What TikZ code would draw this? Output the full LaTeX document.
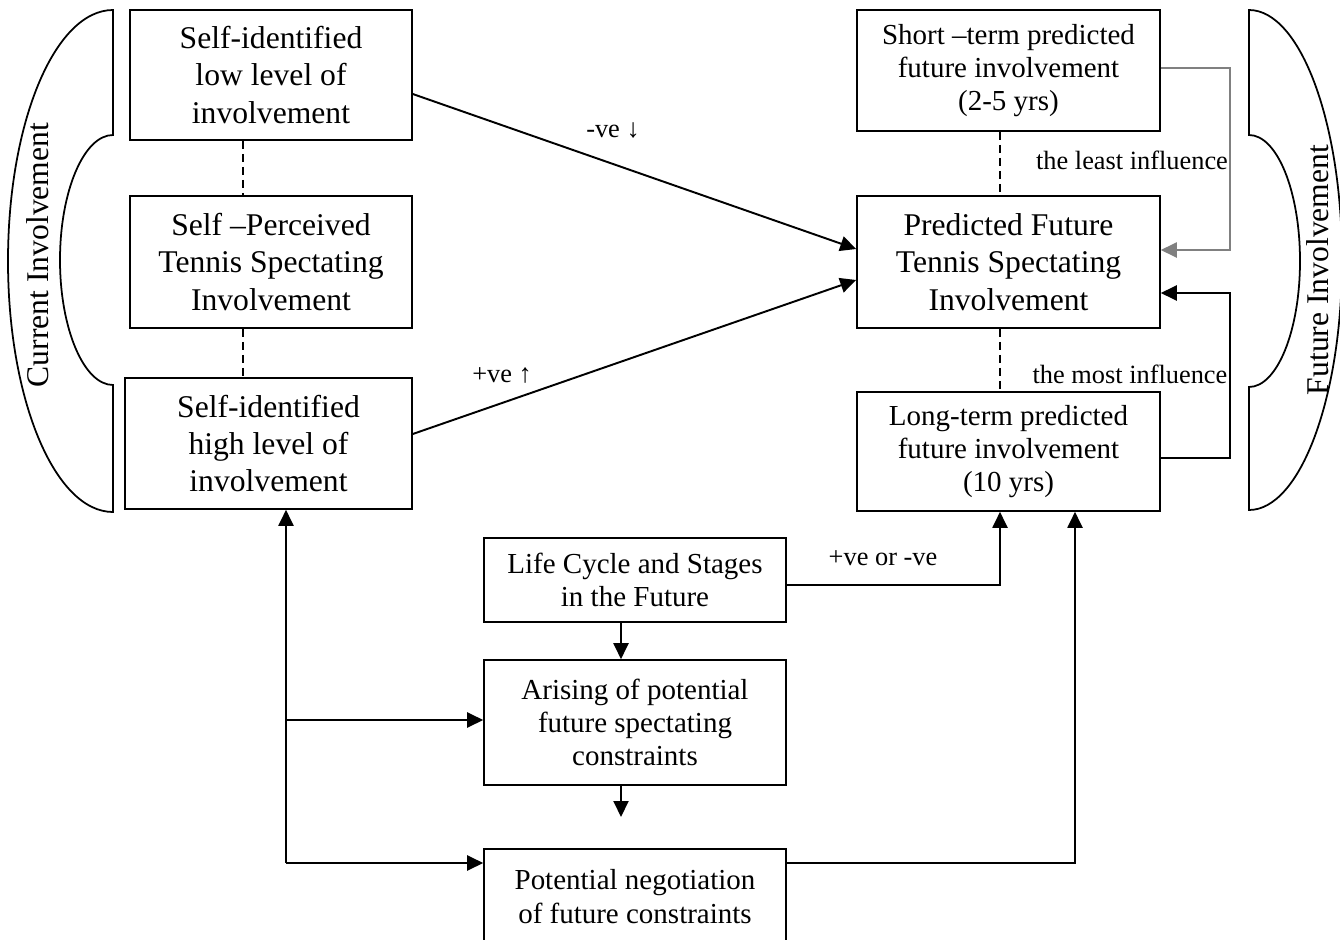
\documentclass[tikz,border=0pt]{standalone}
\usepackage{fontspec}
\setmainfont{Liberation Serif}
\usetikzlibrary{arrows.meta,calc}
\newcommand\bigfs{\fontsize{18}{21.2}\selectfont}
\newcommand\midfs{\fontsize{16.5}{19}\selectfont}
\newcommand\lblfs{\fontsize{15}{18}\selectfont}
\begin{document}
\begin{tikzpicture}[x=0.02cm,y=-0.02cm,
 box/.style={draw, line width=0.9pt, inner sep=0pt, align=center},
 bigbox/.style={box, font=\bigfs},
 midbox/.style={box, font=\midfs},
 conn/.style={line width=1.1pt, -{Triangle[length=0.32cm,width=0.3cm]}},
 dashline/.style={line width=1.2pt, dash pattern=on 0.16cm off 0.1cm},
 lbl/.style={font=\lblfs, inner sep=0pt},
 brace/.style={line width=1pt},
 side/.style={font=\bigfs, rotate=90, inner sep=0pt}
]
\useasboundingbox (0,0) rectangle (1340,940);

\node[bigbox, minimum width=5.64cm, minimum height=2.6cm] (A) at (271,75) {Self-identified\\low level of\\involvement};
\node[bigbox, minimum width=5.64cm, minimum height=2.64cm] (B) at (271,262) {Self –Perceived\\Tennis Spectating\\Involvement};
\node[bigbox, minimum width=5.74cm, minimum height=2.62cm] (C) at (268.5,443.5) {Self-identified\\high level of\\involvement};
\node[midbox, minimum width=6.06cm, minimum height=2.42cm] (D) at (1008.5,70.5) {Short –term predicted\\future involvement\\(2-5 yrs)};
\node[bigbox, minimum width=6.06cm, minimum height=2.64cm] (E) at (1008.5,262) {Predicted Future\\Tennis Spectating\\Involvement};
\node[midbox, minimum width=6.06cm, minimum height=2.38cm] (F) at (1008.5,451.5) {Long-term predicted\\future involvement\\(10 yrs)};
\node[midbox, minimum width=6.04cm, minimum height=1.68cm] (G) at (635,580) {Life Cycle and Stages\\in the Future};
\node[midbox, minimum width=6.04cm, minimum height=2.5cm] (H) at (635,722.5) {Arising of potential\\future spectating\\constraints};
\node[midbox, minimum width=6.04cm, minimum height=1.9cm] (I) at (635,896.5) {Potential negotiation\\of future constraints};

\coordinate (dl) at (243,0);
\coordinate (dr) at (1000,0);
\coordinate (rx) at (1230,0);
\coordinate (fx) at (1075,0);
\coordinate (ax) at (621,0);
\coordinate (jm) at (286,720);
\coordinate (jt) at (286,863);
\coordinate (hend) at (621,817);

% dashed links
\draw[dashline] (A.south -| dl) -- (B.north -| dl);
\draw[dashline] (B.south -| dl) -- (C.north -| dl);
\draw[dashline] (D.south -| dr) -- (E.north -| dr);
\draw[dashline] (E.south -| dr) -- (F.north -| dr);

% diagonal arrows
\draw[conn] ([yshift=-0.38cm]A.east) -- ([yshift=0.26cm]E.west);
\draw[conn] ([yshift=0.19cm]C.east) -- ([yshift=-0.36cm]E.west);

% right side feedback arrows
\draw[conn, color=gray] ([yshift=0.05cm]D.east) -- ([yshift=0.05cm]D.east -| rx) |- ([yshift=0.24cm]E.east);
\draw[conn] ([yshift=-0.13cm]F.east) -- ([yshift=-0.13cm]F.east -| rx) |- ([yshift=-0.62cm]E.east);

% bottom arrows
\draw[conn] ([yshift=-0.1cm]G.east) -| (F.south -| dr);
\draw[conn] (I.east |- jt) -| (F.south -| fx);
\draw[conn] (jt) -- (C.south -| jt);
\draw[conn] (jt) -- (I.west |- jt);
\draw[conn] (jm) -- (H.west |- jm);
\draw[conn] (G.south -| ax) -- (H.north -| ax);
\draw[conn] (H.south -| ax) -- (hend);

% labels
\node[lbl] (l1) at (613,130) {-ve ↓};
\node[lbl] (l2) at (502,375) {+ve ↑};
\node[lbl] (l3) at (1132,160) {the least influence};
\node[lbl] (l4) at (1130,374) {the most influence};
\node[lbl] (l5) at (883,558) {+ve or -ve};

% braces
\draw[brace] (113,10) -- (113,135) .. controls (84,135) and (60,191) .. (60,260) .. controls (60,329) and (84,385) .. (113,385) -- (113,512) .. controls (55,512) and (8,400) .. (8,261) .. controls (8,122) and (55,10) .. (113,10) -- cycle;
\draw[brace] (1249,10) -- (1249,135) .. controls (1277,135) and (1300,191) .. (1300,261) .. controls (1300,331) and (1277,387) .. (1249,387) -- (1249,510) .. controls (1300,510) and (1342,398) .. (1342,260) .. controls (1342,122) and (1300,10) .. (1249,10) -- cycle;

\node[side] (cur) at (38,255) {Current Involvement};
\node[side] (fut) at (1318,270) {Future Involvement};
\end{tikzpicture}
\end{document}
